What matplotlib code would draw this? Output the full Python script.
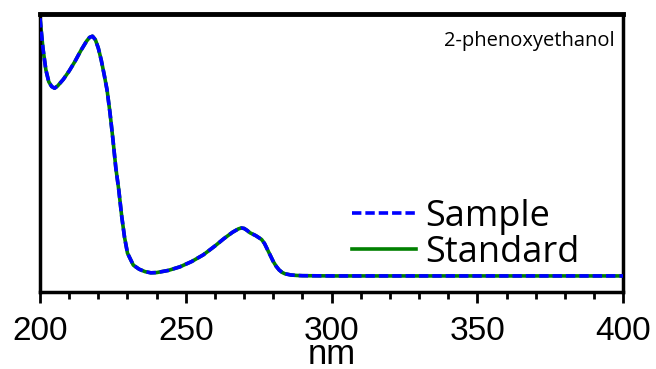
import numpy as np
import matplotlib.pyplot as plt
from matplotlib.ticker import MultipleLocator

# UV spectrum of 2-phenoxyethanol (absorbance, arbitrary scale)
wavelength = [200, 201, 202, 203, 204, 205, 206, 208, 210, 212, 214, 216, 217, 218,
              219, 220, 221, 222, 223, 224, 225, 226, 227, 228, 229, 230, 232, 234,
              236, 238, 240, 244, 248, 252, 256, 260, 263, 266, 268, 269, 270, 271,
              272, 274, 276, 277, 278, 279, 280, 281, 282, 283, 284, 286, 288, 290,
              300, 320, 350, 380, 400]
standard = [1.075, 0.95, 0.86, 0.81, 0.79, 0.783, 0.792, 0.82, 0.855, 0.895, 0.94,
            0.98, 0.995, 1.0, 0.985, 0.95, 0.9, 0.84, 0.775, 0.68, 0.57, 0.45, 0.36,
            0.25, 0.16, 0.095, 0.045, 0.028, 0.018, 0.013, 0.014, 0.023, 0.038, 0.06,
            0.088, 0.125, 0.155, 0.182, 0.196, 0.2, 0.198, 0.19, 0.18, 0.168, 0.152,
            0.135, 0.11, 0.085, 0.06, 0.04, 0.025, 0.015, 0.009, 0.004, 0.002, 0.001,
            0.0, 0.0, 0.0, 0.0, 0.0]
sample = standard  # sample trace overlaps the standard

xticks = [200, 250, 300, 350, 400]

fig = plt.figure(figsize=(6.56, 3.69), dpi=100)
ax = fig.add_axes([0.061, 0.2087, 0.889, 0.753])

ax.plot(wavelength, standard, color="green", lw=2.6, label="Standard", zorder=2)
ax.plot(wavelength, sample, color="blue", lw=2.6, ls="--", dashes=(2.6, 1.1),
        label="Sample", zorder=3)

ax.set_xlim(200, 400)
ax.set_ylim(-0.067, 1.092)
ax.set_xticks(xticks)
ax.xaxis.set_minor_locator(MultipleLocator(10))
ax.set_yticks([])
ax.tick_params(axis="x", which="major", direction="out", length=8, width=2,
               labelsize=24, pad=9)
ax.tick_params(axis="x", which="minor", direction="out", length=5, width=2)
for lab in ax.get_xticklabels():
    lab.set_family("Liberation Sans")

for s in ["left", "right", "bottom"]:
    ax.spines[s].set_linewidth(2.5)
ax.spines["top"].set_linewidth(3.5)

# axis title sits low, partly past the bottom edge as in the reference
ax.text(0.5, -0.165, "nm", transform=ax.transAxes, ha="center", va="top",
        fontsize=25, family="Liberation Sans")

handles, labels = ax.get_legend_handles_labels()
leg = ax.legend(handles[::-1], labels[::-1], loc="center left",
                bbox_to_anchor=(0.535, 0.205), frameon=False,
                prop={"family": "Open Sans", "size": 26},
                handlelength=1.78, handletextpad=0.25, labelspacing=0.0,
                borderpad=0, borderaxespad=0)

ax.text(0.985, 0.905, "2-phenoxyethanol", transform=ax.transAxes, ha="right",
        va="center", fontsize=14.5, family="Open Sans")

fig.savefig("out.png", dpi=100)
